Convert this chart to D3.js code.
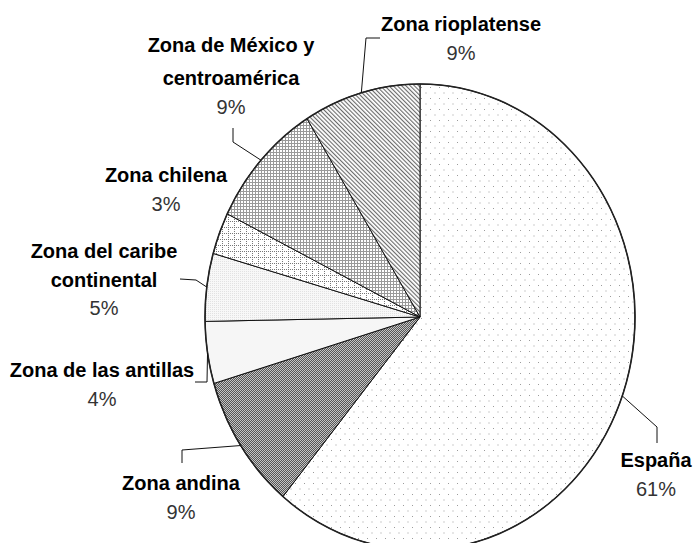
<!DOCTYPE html>
<html>
<head>
<meta charset="utf-8">
<script src="https://cdn.jsdelivr.net/npm/d3@7"></script>
<style>
html,body{margin:0;padding:0;background:#fff;}
svg{display:block;}
</style>
</head>
<body>
<svg id="chart" width="696" height="543"></svg>
<script>
// ---- data ----
const categories = ["España","Zona andina","Zona de las antillas","Zona del caribe continental","Zona chilena","Zona de México y centroamérica","Zona rioplatense"];
const values = [61.0, 9.4, 4.3, 4.7, 2.9, 8.9, 8.8];
const pctLabels = ["61%","9%","4%","5%","3%","9%","9%"];
const labelLines = [["España"],["Zona andina"],["Zona de las antillas"],["Zona del caribe","continental"],["Zona chilena"],["Zona de México y","centroamérica"],["Zona rioplatense"]];

// ---- layout ----
const cx = 420, cy = 317, rx = 215, ry = 233;
const sx = rx / ry;
const lineH = 28.5;
const labelAnchor = [[656,467],[181,490],[102,377],[104,258],[166,182],[231,52],[461,31]];
const labelLineH = [lineH, lineH, lineH, lineH, lineH, 33, lineH];
const leaderPts = [[[657,427],[657,443]],[[182,450],[182,463]],[[207,382],[195,382]],[[196,280],[180,279]],null,[[233,142],[233,128]],[[366,38],[380,38]]];
const fills = ["url(#pDots)","url(#pChecker)","#f6f6f6","url(#pLight)","url(#pDotGrid)","url(#pGrid)","url(#pDiag)"];

const svg = d3.select("#chart");
const defs = svg.append("defs");
const inv = `scale(${1/sx},1)`;

// patterns
let p = defs.append("pattern").attr("id","pDots").attr("patternUnits","userSpaceOnUse")
  .attr("width",9).attr("height",11).attr("patternTransform",inv);
p.append("rect").attr("width",9).attr("height",11).attr("fill","#fff");
p.append("rect").attr("x",1).attr("y",1).attr("width",1).attr("height",1).attr("fill","#9c9c9c");
p.append("rect").attr("x",5.5).attr("y",6.5).attr("width",1).attr("height",1).attr("fill","#9c9c9c");

p = defs.append("pattern").attr("id","pChecker").attr("patternUnits","userSpaceOnUse")
  .attr("width",2).attr("height",2).attr("patternTransform",inv);
p.append("rect").attr("width",2).attr("height",2).attr("fill","#c4c4c4");
p.append("rect").attr("width",1).attr("height",1).attr("fill","#555");
p.append("rect").attr("x",1).attr("y",1).attr("width",1).attr("height",1).attr("fill","#555");

p = defs.append("pattern").attr("id","pLight").attr("patternUnits","userSpaceOnUse")
  .attr("width",2).attr("height",2).attr("patternTransform",inv);
p.append("rect").attr("width",2).attr("height",2).attr("fill","#f8f8f8");
p.append("rect").attr("width",1).attr("height",1).attr("fill","#e2e2e2");

p = defs.append("pattern").attr("id","pDotGrid").attr("patternUnits","userSpaceOnUse")
  .attr("width",6).attr("height",6).attr("patternTransform",inv);
p.append("rect").attr("width",6).attr("height",6).attr("fill","#fff");
[0,2,4].forEach(k=>{
  p.append("rect").attr("x",k).attr("y",0).attr("width",1).attr("height",1).attr("fill","#777");
  if(k>0) p.append("rect").attr("x",0).attr("y",k).attr("width",1).attr("height",1).attr("fill","#777");
});

p = defs.append("pattern").attr("id","pGrid").attr("patternUnits","userSpaceOnUse")
  .attr("width",3).attr("height",3).attr("patternTransform",inv);
p.append("rect").attr("width",3).attr("height",3).attr("fill","#fff");
p.append("rect").attr("width",3).attr("height",1).attr("fill","#9a9a9a");
p.append("rect").attr("width",1).attr("height",3).attr("fill","#9a9a9a");

p = defs.append("pattern").attr("id","pDiag").attr("patternUnits","userSpaceOnUse")
  .attr("width",3).attr("height",3).attr("patternTransform",inv + " rotate(-45)");
p.append("rect").attr("width",3).attr("height",3).attr("fill","#fff");
p.append("rect").attr("width",1.1).attr("height",3).attr("fill","#6a6a6a");

// pie
const pie = d3.pie().sort(null).value(d => d)(values);
const arc = d3.arc().innerRadius(0).outerRadius(ry);

const g = svg.append("g").attr("transform",`translate(${cx},${cy}) scale(${sx},1)`);
g.selectAll("path.slice").data(pie).enter().append("path")
  .attr("class","slice")
  .attr("d",arc)
  .attr("fill",(d,i)=>fills[i])
  .attr("stroke","#111")
  .attr("stroke-width",1)
  .attr("stroke-linejoin","round")
  .attr("vector-effect","non-scaling-stroke");

// outer outline
g.append("path").attr("d", d3.arc().innerRadius(ry).outerRadius(ry)({startAngle:0,endAngle:2*Math.PI}))
  .attr("fill","none").attr("stroke","#222").attr("stroke-width",1.6)
  .attr("vector-effect","non-scaling-stroke");

// leader lines
const lineGen = d3.line();
pie.forEach((d,i)=>{
  if(!leaderPts[i]) return;
  const a = (d.startAngle + d.endAngle)/2;
  const start = [cx + rx*Math.sin(a), cy - ry*Math.cos(a)];
  svg.append("path").attr("d", lineGen([start, ...leaderPts[i]]))
    .attr("fill","none").attr("stroke","#111").attr("stroke-width",1);
});

// labels
const font = "'Liberation Sans', Arial, Helvetica, sans-serif";
categories.forEach((c,i)=>{
  const [x,y] = labelAnchor[i];
  const lh = labelLineH[i];
  const t = svg.append("text").attr("x",x).attr("y",y).attr("text-anchor","middle")
    .attr("font-family",font).attr("font-size",20);
  labelLines[i].forEach((ln,k)=>{
    t.append("tspan").attr("x",x).attr("y",y + k*lh).attr("font-weight","bold").attr("fill","#000").text(ln);
  });
  t.append("tspan").attr("x",x).attr("y",y + (labelLines[i].length-1)*lh + lineH).attr("fill","#333").text(pctLabels[i]);
});
</script>
</body>
</html>
